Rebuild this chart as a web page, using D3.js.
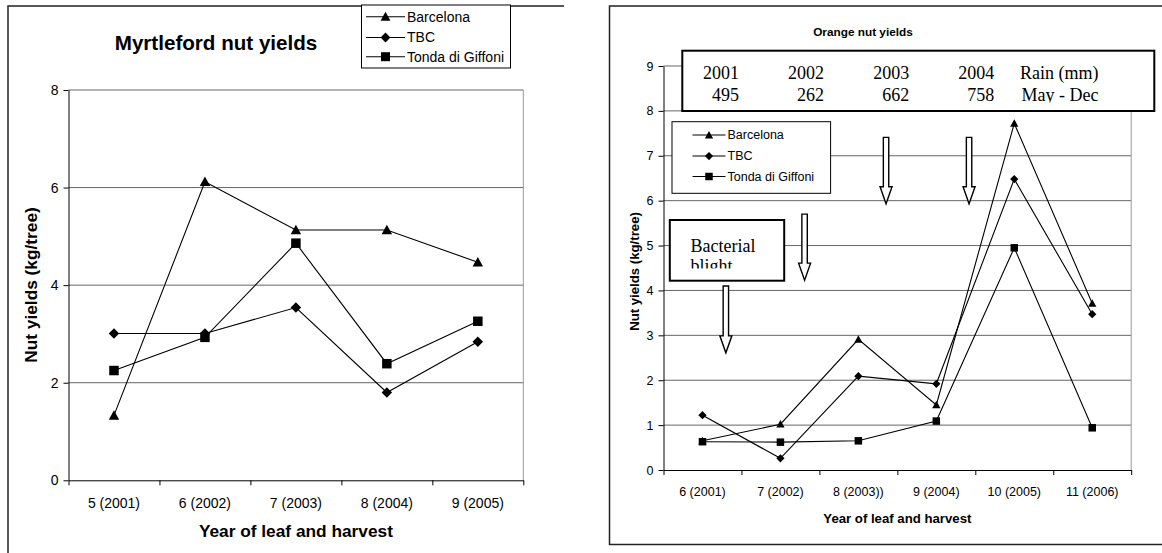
<!DOCTYPE html>
<meta charset="utf-8">
<script src="https://d3js.org/d3.v7.min.js"></script>
<style>
  body { margin: 0; background: #fff; }
  text { font-family: "Liberation Sans", Arial, sans-serif; fill: #000; }
  .serif { font-family: "Liberation Serif", "Times New Roman", serif; }
</style>
<div id="my_dataviz"></div>
<script>

  // ---- data ----
  var myrtleCats = ["5 (2001)", "6 (2002)", "7 (2003)", "8 (2004)", "9 (2005)"];
  var myrtleBarcelona = [1.33, 6.12, 5.13, 5.13, 4.47];
  var myrtleTBC = [3.01, 3.01, 3.54, 1.80, 2.84];
  var myrtleTonda = [2.25, 2.93, 4.86, 2.39, 3.26];
  var myrtleTicks = [0, 2, 4, 6, 8];

  var orangeCats = ["6 (2001)", "7 (2002)", "8 (2003))", "9 (2004)", "10 (2005)", "11 (2006)"];
  var orangeBarcelona = [0.65, 1.02, 2.91, 1.45, 7.72, 3.71];
  var orangeTBC = [1.22, 0.26, 2.09, 1.92, 6.48, 3.47];
  var orangeTonda = [0.63, 0.62, 0.65, 1.09, 4.95, 0.94];
  var orangeTicks = [0, 1, 2, 3, 4, 5, 6, 7, 8, 9];

  var rainYears = ["2001", "2002", "2003", "2004"];
  var rainMM = [495, 262, 662, 758];

  var seriesNames = ["Barcelona", "TBC", "Tonda di Giffoni"];
  var seriesSymbols = ["triangle", "diamond", "square"];

  // arrows: [category position (band units), top value, tip value]
  var arrows = [[0.80, 4.10, 2.61], [1.81, 5.70, 4.23], [2.855, 7.41, 5.93], [3.92, 7.41, 5.93]];

  var svg = d3.select("#my_dataviz").append("svg")
    .attr("width", 1162).attr("height", 553);

  function marker(g, type, x, y, s) {
    var p;
    if (type == "triangle") {
      p = "M" + x + "," + (y - s * 0.55) + "L" + (x + s * 0.55) + "," + (y + s * 0.45) + "L" + (x - s * 0.55) + "," + (y + s * 0.45) + "Z";
    } else if (type == "diamond") {
      p = "M" + x + "," + (y - s * 0.55) + "L" + (x + s * 0.55) + "," + y + "L" + x + "," + (y + s * 0.55) + "L" + (x - s * 0.55) + "," + y + "Z";
    } else {
      p = "M" + (x - s / 2) + "," + (y - s / 2) + "h" + s + "v" + s + "h" + (-s) + "Z";
    }
    g.append("path").attr("d", p).attr("fill", "#000");
  }

  function chart(opt) {
    var g = svg.append("g");
    var n = opt.cats.length;
    var y = d3.scaleLinear().domain([0, d3.max(opt.ticks)]).range([opt.y0, opt.y1]);
    var xb = d3.scaleLinear().domain([0, n]).range([opt.x0, opt.x1]);
    var x = d3.scaleBand().domain(opt.cats).range([opt.x0, opt.x1]).padding(0);

    // grid
    g.selectAll(".grid").data(opt.ticks.filter(function (d) { return d > 0; }))
      .enter().append("line")
      .attr("x1", opt.x0).attr("x2", opt.x1)
      .attr("y1", function (d) { return y(d); }).attr("y2", function (d) { return y(d); })
      .attr("stroke", "#666").attr("stroke-width", 1);
    g.append("line").attr("x1", opt.x1).attr("x2", opt.x1)
      .attr("y1", y(d3.max(opt.ticks))).attr("y2", y(0))
      .attr("stroke", "#999").attr("stroke-width", 1);

    // y axis
    var yAxis = g.append("g").attr("transform", "translate(" + opt.x0 + ",0)")
      .call(d3.axisLeft(y).tickValues(opt.ticks).tickSize(5).tickSizeOuter(0).tickPadding(5));
    yAxis.selectAll("text").style("font-size", opt.tickFont + "px").attr("font-family", null);
    yAxis.selectAll("path,line").attr("stroke", "#000");

    // x axis
    var xAxis = g.append("g").attr("transform", "translate(0," + opt.y0 + ")")
      .call(d3.axisBottom(xb).tickValues(d3.range(n + 1)).tickFormat("").tickSize(5).tickSizeOuter(0));
    xAxis.selectAll("path,line").attr("stroke", "#000");
    g.selectAll(".xl").data(opt.cats).enter().append("text")
      .attr("x", function (d) { return x(d) + x.bandwidth() / 2; })
      .attr("y", opt.xLabelY)
      .attr("text-anchor", "middle")
      .style("font-size", opt.tickFont + "px")
      .text(function (d) { return d; });

    // titles
    g.append("text").attr("x", (opt.x0 + opt.x1) / 2).attr("y", opt.xTitleY)
      .attr("text-anchor", "middle").style("font-weight", "bold").style("font-size", opt.axisFont + "px")
      .text("Year of leaf and harvest");
    g.append("text").attr("transform", "translate(" + opt.yTitleX + "," + opt.yTitleY + ") rotate(-90)")
      .attr("text-anchor", "middle").attr("dy", "0.35em")
      .style("font-weight", "bold").style("font-size", opt.axisFont + "px")
      .text("Nut yields (kg/tree)");
    g.append("text").attr("x", opt.titleX).attr("y", opt.titleY)
      .attr("text-anchor", "middle").style("font-weight", "bold").style("font-size", opt.titleFont + "px")
      .text(opt.title);

    return { g: g, x: x, y: y, xb: xb };
  }

  function drawSeries(c, cats, series, size) {
    var line = d3.line()
      .x(function (d, i) { return c.x(cats[i]) + c.x.bandwidth() / 2; })
      .y(function (d) { return c.y(d); });
    series.forEach(function (vals, k) {
      c.g.append("path").datum(vals).attr("d", line)
        .attr("fill", "none").attr("stroke", "#000").attr("stroke-width", 1.1);
    });
    series.forEach(function (vals, k) {
      vals.forEach(function (v, i) {
        marker(c.g, seriesSymbols[k], c.x(cats[i]) + c.x.bandwidth() / 2, c.y(v), size);
      });
    });
  }

  function legend(g, bx, by, bw, bh, rows, lx1, lx2, tx, font, msize, sw) {
    g.append("rect").attr("x", bx).attr("y", by).attr("width", bw).attr("height", bh)
      .attr("fill", "#fff").attr("stroke", "#000").attr("stroke-width", sw);
    seriesNames.forEach(function (name, k) {
      g.append("line").attr("x1", lx1).attr("x2", lx2).attr("y1", rows[k]).attr("y2", rows[k])
        .attr("stroke", "#000").attr("stroke-width", 1.1);
      marker(g, seriesSymbols[k], (lx1 + lx2) / 2, rows[k], msize);
      g.append("text").attr("x", tx).attr("y", rows[k]).attr("dy", "0.35em")
        .style("font-size", font + "px").text(name);
    });
  }

  // ---------------- Myrtleford ----------------
  svg.append("path").attr("d", "M8,553V6H564").attr("fill", "none").attr("stroke", "#222").attr("stroke-width", 1.5);
  var left = chart({
    cats: myrtleCats, ticks: myrtleTicks,
    x0: 68.5, x1: 523.3, y0: 480.3, y1: 90,
    tickFont: 14, axisFont: 17.3, titleFont: 20.6,
    xLabelY: 507.5, xTitleY: 537, yTitleX: 31, yTitleY: 285,
    titleX: 216, titleY: 49.5, title: "Myrtleford nut yields"
  });
  drawSeries(left, myrtleCats, [myrtleBarcelona, myrtleTBC, myrtleTonda], 9.5);
  legend(svg, 361.5, 5, 149, 63, [16.7, 37.5, 56.7], 366, 405, 407, 14, 9, 1);

  // ---------------- Orange ----------------
  svg.append("path").attr("d", "M1163,6H609.5V544.5H1163").attr("fill", "none").attr("stroke", "#222").attr("stroke-width", 1.5);
  var right = chart({
    cats: orangeCats, ticks: orangeTicks,
    x0: 663.5, x1: 1131.2, y0: 470, y1: 66,
    tickFont: 12.5, axisFont: 13.2, titleFont: 11.8,
    xLabelY: 495.5, xTitleY: 523, yTitleX: 634, yTitleY: 271.5,
    titleX: 863, titleY: 35.5, title: "Orange nut yields"
  });
  drawSeries(right, orangeCats, [orangeBarcelona, orangeTBC, orangeTonda], 7.5);

  // rain box
  var rg = svg.append("g");
  rg.append("clipPath").attr("id", "rainclip").append("rect")
    .attr("x", 682).attr("y", 50).attr("width", 472).attr("height", 52.5);
  rg.append("rect").attr("x", 682.3).attr("y", 50.7).attr("width", 472).attr("height", 60.3)
    .attr("fill", "#fff").attr("stroke", "#000").attr("stroke-width", 2);
  var rt = rg.append("g").attr("clip-path", "url(#rainclip)");
  rainYears.forEach(function (yr, i) {
    rt.append("text").attr("class", "serif").attr("x", 739 + i * 85.1).attr("y", 79)
      .attr("text-anchor", "end").style("font-size", "18px").text(yr);
    rt.append("text").attr("class", "serif").attr("x", 739 + i * 85.1).attr("y", 101)
      .attr("text-anchor", "end").style("font-size", "18px").text(rainMM[i]);
  });
  rt.append("text").attr("class", "serif").attr("x", 1020).attr("y", 79).style("font-size", "18px").text("Rain (mm)");
  rt.append("text").attr("class", "serif").attr("x", 1021.5).attr("y", 101).style("font-size", "18px").text("May - Dec");

  legend(svg, 672, 121.7, 158.6, 71.6, [135, 156, 176.5], 692.5, 725.5, 727.5, 12.5, 7.5, 1);

  // bacterial blight box
  var bg = svg.append("g");
  bg.append("clipPath").attr("id", "bbclip").append("rect")
    .attr("x", 670).attr("y", 220).attr("width", 114).attr("height", 48.5);
  bg.append("rect").attr("x", 669.8).attr("y", 220).attr("width", 114.4).attr("height", 60.7)
    .attr("fill", "#fff").attr("stroke", "#000").attr("stroke-width", 2);
  var bt = bg.append("g").attr("clip-path", "url(#bbclip)");
  bt.append("text").attr("class", "serif").attr("x", 690.5).attr("y", 251.5).style("font-size", "18px").text("Bacterial");
  bt.append("text").attr("class", "serif").attr("x", 690.5).attr("y", 272).style("font-size", "18px").text("blight");

  // hollow arrows
  arrows.forEach(function (a) {
    var cx = right.xb(a[0]), top = right.y(a[1]), tip = right.y(a[2]);
    var hs = tip - 17, w = 2.7, hw = 6;
    var p = "M" + (cx - w) + "," + top + "H" + (cx + w) + "V" + hs + "H" + (cx + hw) +
      "L" + cx + "," + tip + "L" + (cx - hw) + "," + hs + "H" + (cx - w) + "Z";
    svg.append("path").attr("d", p).attr("fill", "#fff").attr("stroke", "#000").attr("stroke-width", 1.4);
  });

</script>
